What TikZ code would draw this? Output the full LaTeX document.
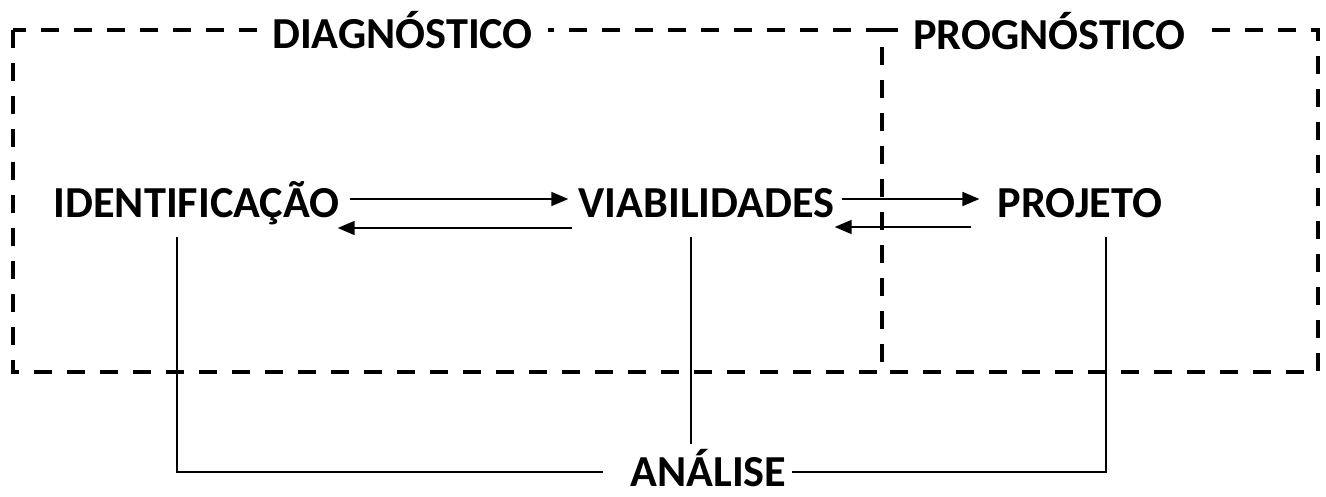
\documentclass[tikz,border=0pt]{standalone}
\usepackage{fontspec}
\setmainfont{Carlito}
\usetikzlibrary{arrows.meta,positioning,calc}

\begin{document}
\begin{tikzpicture}[
    label/.style={font=\fontsize{25.2}{29}\selectfont\bfseries, inner sep=0pt, text height=0.56cm, text depth=0pt},
    title/.style={label, fill=white, inner xsep=0.3cm},
    frame/.style={line width=2pt, dash pattern=on 0.36cm off 0.3cm},
    link/.style={line width=1pt},
    arrow/.style={link, -{Triangle[length=0.34cm, width=0.28cm]}}
]
    \useasboundingbox (0,0) rectangle (26.52,-9.92);

    % Dashed frames
    \draw[frame] (0.26,-0.6) rectangle (17.64,-7.44);
    \draw[frame] (17.64,-0.6) -- (26.36,-0.6) -- (26.36,-7.44) -- (17.64,-7.44);

    % Frame titles
    \node[title] (diag) at (8.05,-0.69) {DIAGNÓSTICO};
    \node[title] (prog) at (20.99,-0.70) {PROGNÓSTICO};

    % Stages
    \node[label] (ident) at (3.93,-4.07) {IDENTIFICAÇÃO};
    \node[label] (viab) at (14.13,-4.07) {VIABILIDADES};
    \node[label] (proj) at (21.60,-4.07) {PROJETO};
    \node[label] (analise) at (14.17,-9.44) {ANÁLISE};

    % Flows between stages
    \draw[arrow] ([shift={(0.2,0.09)}]ident.east) -- ([shift={(-0.2,0.09)}]viab.west);
    \draw[arrow] ([shift={(-0.12,-0.49)}]viab.west) -- ([shift={(-0.04,-0.49)}]ident.east);
    \draw[arrow] ([shift={(0.14,0.09)}]viab.east) -- ([shift={(-0.36,0.09)}]proj.west);
    \draw[arrow] ([shift={(-0.52,-0.47)}]proj.west) -- ([shift={(0,-0.47)}]viab.east);

    % Links to the analysis
    \coordinate (viabfoot) at ([xshift=-0.31cm,yshift=-0.38cm]viab.south);
    \draw[link] ([xshift=-0.39cm,yshift=-0.38cm]ident.south) |- ([xshift=-0.54cm]analise.west);
    \draw[link, shorten >=0.28cm] (viabfoot) -- (viabfoot |- analise.north);
    \draw[link] ([xshift=0.52cm,yshift=-0.38cm]proj.south) |- ([xshift=0.1cm]analise.east);
\end{tikzpicture}
\end{document}
